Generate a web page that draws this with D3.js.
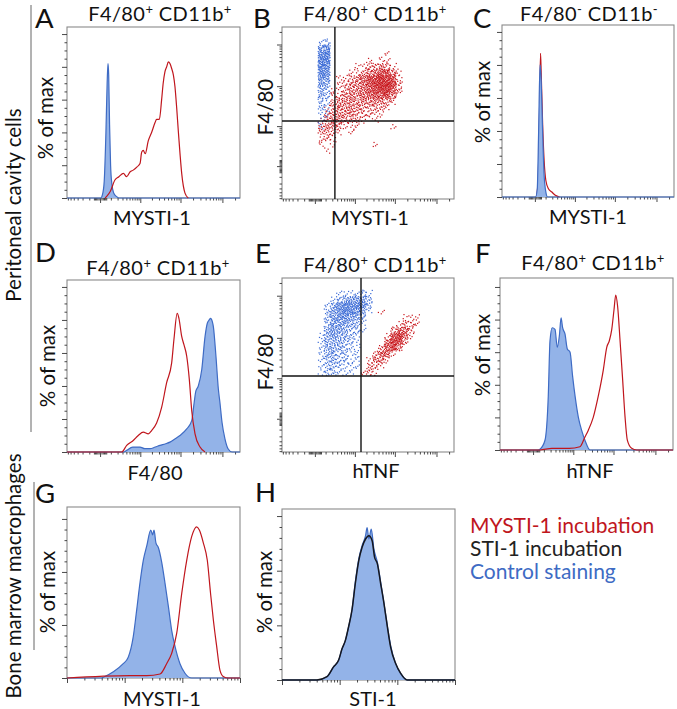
<!DOCTYPE html>
<html><head><meta charset="utf-8">
<script src="https://cdn.jsdelivr.net/npm/d3@7"></script>
<style>
body{margin:0;background:#fff}
svg{display:block}
text{font-family:Lato,"Open Sans",sans-serif}
</style>
</head><body>
<svg id="chart" width="677" height="709"></svg>
<script>
// ================= DATA =================
// histogram series: [channel (0-1000 across the axis), % of max]
const histA_control = [[0,0],[195,0],[205,2],[215,10],[225,40],[232,70],[237,82],[241,75],[246,45],[252,20],[260,8],[270,3],[285,1],[300,0],[1000,0]];
const histA_mysti = [[220,0],[229,1],[250,4],[277,11],[300,13],[326,15],[345,13],[365,16],[383,17],[405,19],[422,21],[432,28],[441,29],[452,27],[470,35],[489,40],[509,46],[518,48],[534,48],[547,60],[556,70],[566,77],[576,80],[586,83],[595,82],[605,79],[615,75],[624,68],[634,55],[644,40],[654,26],[663,15],[682,3],[701,0]];
const histC_control = [[0,0],[195,0],[205,5],[213,40],[221,80],[228,70],[236,40],[244,15],[255,3],[265,0],[1000,0]];
const histC_mysti = [[200,0],[210,10],[218,50],[224,87],[228,75],[236,45],[245,22],[255,10],[270,5],[290,3],[310,1],[335,0]];
const histD_control = [[0,0],[330,0],[345,1],[380,3],[422,3],[450,2],[480,2],[510,3],[538,4],[570,5],[595,6],[625,8],[653,10],[692,14],[721,19],[735,30],[745,37],[759,40],[779,50],[798,70],[811,78],[822,80],[830,81],[840,79],[846,76],[861,58],[875,38],[884,30],[896,18],[913,8],[931,2],[954,0],[1000,0]];
const histD_mysti = [[0,0],[316,0],[345,4],[383,7],[412,10],[441,12],[470,11],[489,13],[518,17.5],[547,27],[576,42],[605,54],[618,68],[637,84],[647,81],[663,70],[676,65],[692,58],[707,44],[721,25],[740,11],[769,3],[798,0]];
const histF_control = [[0,0],[220,0],[231,0.5],[260,6],[279,33],[289,67],[302,75],[318,74],[331,63],[343,70],[353,81],[362,75],[376,71],[389,62],[405,60],[420,45],[434,33],[453,20],[472,12],[491,6],[520,0],[1000,0]];
const histF_mysti = [[0,0],[230,0],[300,1],[400,1],[462,2],[491,8],[510,12],[539,20],[568,33],[597,49],[617,63],[632,67],[646,74],[659,86],[669,95],[680,88],[694,67],[709,43],[723,20],[736,6],[761,1],[790,0],[1000,0]];
const histG_control = [[0,0],[200,0],[210,0.5],[268,4],[325,9],[354,13],[383,26],[403,43],[422,60],[441,74],[461,83],[484,93],[495,90],[503,93],[514,85],[528,82],[547,73],[566,60],[586,45],[605,30],[624,20],[653,9],[682,3],[721,0],[1000,0]];
const histG_mysti = [[0,0],[364,1.5],[461,1.5],[538,2.5],[576,9],[605,15.5],[634,28],[663,53],[692,74],[721,89],[750,95],[765,93],[788,85],[811,74],[830,53],[846,36.5],[865,20],[884,5],[903,1],[932,0],[1000,0]];
const histH_control = [[0,0],[202,0],[260,2],[298,8],[327,12],[347,19],[366,24],[385,32.5],[405,43],[424,60],[444,74],[463,82],[483,88],[492,93],[502,86],[516,92],[531,80],[551,72],[570,60],[589,47],[609,33],[628,21],[657,10],[686,4],[724,0],[1000,0]];
const histH_sti = [[0,0],[202,0],[260,2],[298,8],[327,12],[347,19],[366,24],[385,32.5],[405,43],[424,59],[444,73],[463,81],[483,86],[502,88],[521,85],[535,75],[551,71],[570,59],[589,47],[609,32.5],[628,20],[657,10],[686,4],[724,0],[1000,0]];

// dot-plot density maps: rows from top, each char = density level of one 35-channel cell
const dotsB_control = ["","","......12","......45","......67","......77","......76","......65","......54","......43","......32","......32","......21","......21","......11","......1","......1"];
const dotsB_mysti = ["","","","",".................1","..............1.11","............1122321","...........112345531",".........11234678751",".........12334678862","........112334567752","........12333445553","........23333333321",".......12333322221",".......2333322211","......12332221.1","......2332111.....1","......2221.1","......121","......1.1......1",".......1"];
const dotsE_control = ["","",".........111121","........1234442",".......13566652",".......24566531",".......2455432",".......2444321",".......3443221","......1343321","......1333221","......1333211","......1332211","......1232211","......1222111","......122111"];
const dotsE_mysti = ["","","","","","................1","....................111","...................1221","..................2442",".................15741",".................4762","................2563","...............2441","..............1331","..............221",".............121"];
// quadrant gates (fluorescence units): [x, y]
const gateB = [250, 1360];
const gateE = [1450, 1150];

// axis ticks
const logicleDomain = [-635, 262144];
const logicleMajor = [0, 1000, 10000, 100000];
const logicleMinor = [-600,-500,-400,-300,-200,-100,-50,-40,-30,-20,-10,10,20,30,40,50,100,200,300,400,500,600,700,800,900,2000,3000,4000,5000,6000,7000,8000,9000,20000,30000,40000,50000,60000,70000,80000,90000,200000];
const logDomain = [10, 10000];
const logMajor = [10, 100, 1000, 10000];
const logMinor = [20,30,40,50,60,70,80,90,200,300,400,500,600,700,800,900,2000,3000,4000,5000,6000,7000,8000,9000];
const pctMajor20 = [0,20,40,60,80,100];
const pctMinor20 = [5,10,15,25,30,35,45,50,55,65,70,75,85,90,95];
const pctMajor33 = [0,33.33,66.67,100];
const pctMinor33 = [6.67,13.33,20,26.67,40,46.67,53.33,60,73.33,80,86.67,93.33];

// texts
const panelLetters = ["A","B","C","D","E","F","G","H"];
const titleSigns = ["+","+","-","+","+","+"];
const xLabels = ["MYSTI-1","MYSTI-1","MYSTI-1","F4/80","hTNF","hTNF","MYSTI-1","STI-1"];
const yLabels = ["% of max","F4/80","% of max","% of max","F4/80","% of max","% of max","% of max"];
const rowLabels = ["Peritoneal cavity cells","Bone marrow macrophages"];
const legendLabels = ["MYSTI-1 incubation","STI-1 incubation","Control staining"];

// ================= LAYOUT / STYLE =================
const C = {red:"#c0161d", fill:"#93b3e8", blue:"#3e6bc4", dotRed:"#c8151b", dotBlue:"#3b6bd6", frame:"#8a8a8a", tick:"#333"};
const layout = {
  A:{box:[67,27,240,198], letter:[35,28], title:[160,21], xl:[152,225], yl:[53,118], yMax:104.3},
  B:{box:[282,27,454,199], letter:[253,28], title:[375,21], xl:[370,225], yl:[273,107]},
  C:{box:[502,25,674,197], letter:[473,28], title:[589,21], xl:[588,224], yl:[490,102], yMax:104.2},
  D:{box:[67,280,240,452], letter:[35,262], title:[158,275], xl:[155,480], yl:[55,366], yMax:104.2},
  E:{box:[282,278,454,452], letter:[255,263], title:[375,272], xl:[376,478], yl:[273,362]},
  F:{box:[500,278,673,450], letter:[475,263], title:[593,270], xl:[590,478], yl:[490,355], yMax:105.5},
  G:{box:[67,507,240,678], letter:[35,503], xl:[162,706], yl:[55,592], yMax:107.5},
  H:{box:[282,509,455,680], letter:[255,502], xl:[373,706], yl:[272,592], yMax:104.3}
};

const svg = d3.select("#chart");

function frame(g,b){
  g.append("rect").attr("x",b[0]).attr("y",b[1]).attr("width",b[2]-b[0]).attr("height",b[3]-b[1])
   .attr("fill","none").attr("stroke",C.frame).attr("stroke-width",1.1);
}
function axisTicks(g, axisFn, scale, transform, values, size){
  g.append("g").attr("transform",transform).attr("color",C.tick)
   .call(axisFn(scale).tickValues(values).tickSize(size).tickSizeOuter(0).tickFormat(""))
   .call(a=>{a.select(".domain").remove(); a.selectAll("line").attr("stroke-width",0.9);});
}
function logicleX(g,b){
  const s = d3.scaleSymlog().constant(124.5).domain(logicleDomain).range([b[0],b[2]]);
  axisTicks(g,d3.axisBottom,s,`translate(0,${b[3]})`,logicleMinor,2.5);
  axisTicks(g,d3.axisBottom,s,`translate(0,${b[3]})`,logicleMajor,5);
  return s;
}
function logicleY(g,b){
  const s = d3.scaleSymlog().constant(124.5).domain(logicleDomain).range([b[3],b[1]]);
  axisTicks(g,d3.axisLeft,s,`translate(${b[0]},0)`,logicleMinor,2.5);
  axisTicks(g,d3.axisLeft,s,`translate(${b[0]},0)`,logicleMajor,5);
  return s;
}
function logX(g,b){
  const s = d3.scaleLog().domain(logDomain).range([b[0],b[2]]);
  axisTicks(g,d3.axisBottom,s,`translate(0,${b[3]})`,logMinor,2.5);
  axisTicks(g,d3.axisBottom,s,`translate(0,${b[3]})`,logMajor,5);
}
function pctY(g,b,yMax,major,minor){
  const s = d3.scaleLinear().domain([0,yMax]).range([b[3],b[1]]);
  axisTicks(g,d3.axisLeft,s,`translate(${b[0]},0)`,minor,2.5);
  axisTicks(g,d3.axisLeft,s,`translate(${b[0]},0)`,major,5);
  return s;
}
function hist(g,b,yMax,series){
  const x = d3.scaleLinear().domain([0,1000]).range([b[0],b[2]]);
  const y = d3.scaleLinear().domain([0,yMax]).range([b[3],b[1]]);
  series.forEach(s=>{
    if(s.fill){
      g.append("path").datum(s.data)
       .attr("d",d3.area().x(d=>x(d[0])).y0(y(0)).y1(d=>y(d[1])).curve(d3.curveMonotoneX))
       .attr("fill",C.fill).attr("stroke","none");
    }
    g.append("path").datum(s.data)
     .attr("d",d3.line().x(d=>x(d[0])).y(d=>y(d[1])).curve(d3.curveMonotoneX))
     .attr("fill","none").attr("stroke",s.color).attr("stroke-width",s.w||1.2).attr("stroke-linejoin","round");
  });
}
function halton(i,base){let f=1,r=0;while(i>0){f/=base;r+=f*(i%base);i=Math.floor(i/base);}return r;}
let haltonIdx = 1;
function dots(g,b,map,color){
  const x = d3.scaleLinear().domain([0,1000]).range([b[0],b[2]]);
  const y = d3.scaleLinear().domain([0,1000]).range([b[3],b[1]]);
  const cell = 35, K = 4, pts = [];
  map.forEach((row,r)=>{
    for(let c=0;c<row.length;c++){
      const ch=row[c]; const L = ch==="." ? 0 : +ch;
      for(let k=0;k<L*K;k++){
        const u=halton(haltonIdx,2), v=halton(haltonIdx,3); haltonIdx++;
        pts.push([cell*(c+u), 1000-cell*(r+v)]);
      }
    }
  });
  g.append("g").selectAll("rect").data(pts).join("rect")
   .attr("x",d=>x(d[0])-0.6).attr("y",d=>y(d[1])-0.6).attr("width",1.2).attr("height",1.2).attr("fill",color);
}
function gates(g,b,sx,sy,gate){
  g.append("line").attr("x1",sx(gate[0])).attr("x2",sx(gate[0])).attr("y1",b[1]).attr("y2",b[3]).attr("stroke","#111").attr("stroke-width",1.4);
  g.append("line").attr("x1",b[0]).attr("x2",b[2]).attr("y1",sy(gate[1])).attr("y2",sy(gate[1])).attr("stroke","#111").attr("stroke-width",1.4);
}
function texts(id,i){
  const L = layout[id];
  svg.append("text").attr("x",L.letter[0]).attr("y",L.letter[1]).attr("font-size",27.5).attr("fill","#111").text(panelLetters[i]);
  if(L.title){
    const sign = titleSigns[i];
    const t = svg.append("text").attr("x",L.title[0]).attr("y",L.title[1]).attr("text-anchor","middle")
      .attr("font-size",20).attr("letter-spacing",0.4).attr("fill","#111");
    t.append("tspan").text("F4/80");
    t.append("tspan").attr("dy",-7.5).attr("font-size",13).text(sign);
    t.append("tspan").attr("dy",7.5).text(" CD11b");
    t.append("tspan").attr("dy",-7.5).attr("font-size",13).text(sign);
  }
  svg.append("text").attr("x",L.xl[0]).attr("y",L.xl[1]).attr("text-anchor","middle").attr("font-size",20).attr("fill","#111").text(xLabels[i]);
  svg.append("text").attr("transform",`translate(${L.yl[0]},${L.yl[1]}) rotate(-90)`).attr("text-anchor","middle").attr("font-size",20.5).attr("fill","#111").text(yLabels[i]);
}

// ---------- panels ----------
const gA = svg.append("g"), bA = layout.A.box;
frame(gA,bA); logicleX(gA,bA); pctY(gA,bA,layout.A.yMax,pctMajor20,pctMinor20);
hist(gA,bA,layout.A.yMax,[{data:histA_control,fill:true,color:C.blue},{data:histA_mysti,color:C.red}]);

const gB = svg.append("g"), bB = layout.B.box;
frame(gB,bB);
const sxB = logicleX(gB,bB), syB = logicleY(gB,bB);
dots(gB,bB,dotsB_mysti,C.dotRed); dots(gB,bB,dotsB_control,C.dotBlue);
gates(gB,bB,sxB,syB,gateB);

const gC = svg.append("g"), bC = layout.C.box;
frame(gC,bC); logicleX(gC,bC); pctY(gC,bC,layout.C.yMax,pctMajor20,pctMinor20);
hist(gC,bC,layout.C.yMax,[{data:histC_mysti,color:C.red},{data:histC_control,fill:true,color:C.blue}]);

const gD = svg.append("g"), bD = layout.D.box;
frame(gD,bD); logicleX(gD,bD); pctY(gD,bD,layout.D.yMax,pctMajor20,pctMinor20);
hist(gD,bD,layout.D.yMax,[{data:histD_control,fill:true,color:C.blue},{data:histD_mysti,color:C.red}]);

const gE = svg.append("g"), bE = layout.E.box;
frame(gE,bE);
const sxE = logicleX(gE,bE), syE = logicleY(gE,bE);
dots(gE,bE,dotsE_control,C.dotBlue); dots(gE,bE,dotsE_mysti,C.dotRed);
gates(gE,bE,sxE,syE,gateE);

const gF = svg.append("g"), bF = layout.F.box;
frame(gF,bF); logicleX(gF,bF); pctY(gF,bF,layout.F.yMax,pctMajor20,pctMinor20);
hist(gF,bF,layout.F.yMax,[{data:histF_control,fill:true,color:C.blue},{data:histF_mysti,color:C.red}]);

const gG = svg.append("g"), bG = layout.G.box;
frame(gG,bG); logX(gG,bG); pctY(gG,bG,layout.G.yMax,pctMajor33,pctMinor33);
hist(gG,bG,layout.G.yMax,[{data:histG_control,fill:true,color:C.blue},{data:histG_mysti,color:C.red}]);

const gH = svg.append("g"), bH = layout.H.box;
frame(gH,bH); logX(gH,bH); pctY(gH,bH,layout.H.yMax,pctMajor33,pctMinor33);
hist(gH,bH,layout.H.yMax,[{data:histH_control,fill:true,color:C.blue},{data:histH_sti,color:"#15171f",w:1.5}]);

["A","B","C","D","E","F","G","H"].forEach((id,i)=>texts(id,i));

// row labels and brackets
svg.append("line").attr("x1",31).attr("x2",31).attr("y1",5).attr("y2",432).attr("stroke","#666").attr("stroke-width",1);
svg.append("line").attr("x1",34).attr("x2",34).attr("y1",482).attr("y2",650).attr("stroke","#666").attr("stroke-width",1);
svg.append("text").attr("transform","translate(21,205) rotate(-90)").attr("text-anchor","middle").attr("font-size",20.5).attr("fill","#111").text(rowLabels[0]);
svg.append("text").attr("transform","translate(21,576) rotate(-90)").attr("text-anchor","middle").attr("font-size",20.5).attr("fill","#111").text(rowLabels[1]);

// legend
const legendColors = [C.red,"#222",C.blue];
legendLabels.forEach((t,i)=>{
  svg.append("text").attr("x",470).attr("y",533+23*i).attr("font-size",21).attr("fill",legendColors[i]).text(t);
});
</script>
</body></html>
